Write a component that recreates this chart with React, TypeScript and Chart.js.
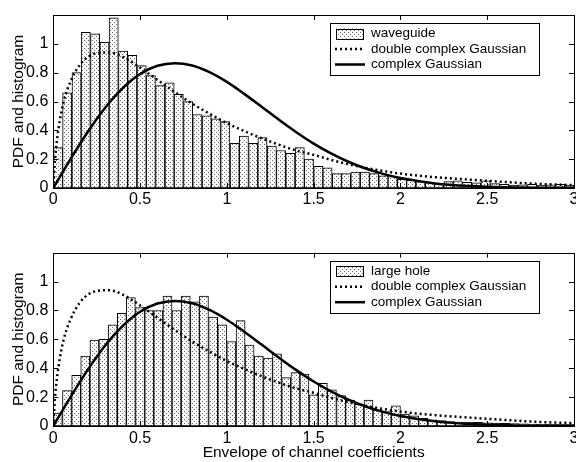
import React, { useEffect, useRef } from "react";
import { Chart, registerables } from "chart.js";

Chart.register(...registerables);

// ---------- data ----------
const TOP_BIN_CENTERS = [
  0.027, 0.08, 0.134, 0.187, 0.241, 0.295, 0.348, 0.402, 0.455, 0.509,
  0.562, 0.616, 0.67, 0.723, 0.777, 0.83, 0.884, 0.937, 0.991, 1.045,
  1.098, 1.152, 1.205, 1.259, 1.312, 1.366, 1.42, 1.473, 1.527, 1.58,
  1.634, 1.687, 1.741, 1.795, 1.848, 1.902, 1.955, 2.009, 2.062, 2.116,
  2.17, 2.223, 2.277, 2.33, 2.384, 2.437, 2.491, 2.545, 2.598, 2.652,
  2.705, 2.759, 2.812, 2.866, 2.92, 2.973,
];
const TOP_HIST = [
  0.28, 0.66, 0.8, 1.08, 1.07, 1.01, 1.18, 0.95, 0.92, 0.85,
  0.78, 0.71, 0.73, 0.65, 0.6, 0.51, 0.5, 0.48, 0.46, 0.31,
  0.36, 0.31, 0.35, 0.29, 0.26, 0.24, 0.28, 0.2, 0.15, 0.14,
  0.1, 0.1, 0.11, 0.11, 0.1, 0.085, 0.08, 0.06, 0.055, 0.045,
  0.037, 0.03, 0.045, 0.05, 0.04, 0.035, 0.05, 0.03, 0.025, 0.02,
  0.022, 0.025, 0.02, 0.022, 0.025, 0.02,
];

const BOTTOM_BIN_CENTERS = [
  0.026, 0.079, 0.132, 0.184, 0.237, 0.289, 0.342, 0.395, 0.447, 0.5,
  0.553, 0.605, 0.658, 0.71, 0.763, 0.816, 0.868, 0.921, 0.974, 1.026,
  1.079, 1.131, 1.184, 1.237, 1.289, 1.342, 1.395, 1.447, 1.5, 1.553,
  1.605, 1.658, 1.71, 1.763, 1.816, 1.868, 1.921, 1.974, 2.026, 2.079,
  2.131, 2.184, 2.237, 2.289, 2.342, 2.395, 2.447, 2.5, 2.553, 2.605,
  2.658, 2.71, 2.763, 2.816, 2.868, 2.921, 2.974,
];
const BOTTOM_HIST = [
  0.09, 0.245, 0.35, 0.485, 0.595, 0.6, 0.7, 0.78, 0.89, 0.82,
  0.8, 0.8, 0.9, 0.8, 0.9, 0.86, 0.9, 0.755, 0.7, 0.585,
  0.73, 0.56, 0.485, 0.47, 0.5, 0.335, 0.37, 0.36, 0.215, 0.295,
  0.25, 0.21, 0.18, 0.15, 0.18, 0.11, 0.1, 0.14, 0.083, 0.07,
  0.053, 0.042, 0.037, 0.03, 0.028, 0.027, 0.025, 0.022, 0.02, 0.018,
  0.016, 0.015, 0.013, 0.012, 0.012, 0.01, 0.01,
];

const DCG_X = [
  0, 0.01, 0.03, 0.06, 0.1, 0.15, 0.2, 0.25, 0.3, 0.35, 0.4, 0.45, 0.5,
  0.6, 0.7, 0.8, 0.9, 1.0, 1.1, 1.2, 1.3, 1.4, 1.5, 1.6, 1.7, 1.8, 1.9,
  2.0, 2.2, 2.4, 2.6, 2.8, 3.0,
];
const DCG_Y = [
  0, 0.2, 0.41, 0.6, 0.74, 0.85, 0.91, 0.935, 0.94, 0.935, 0.91, 0.875, 0.835,
  0.75, 0.665, 0.585, 0.515, 0.45, 0.395, 0.345, 0.3, 0.26, 0.23, 0.195, 0.165,
  0.14, 0.118, 0.1, 0.075, 0.058, 0.042, 0.028, 0.02,
];

const CG_X = [
  0, 0.1, 0.2, 0.3, 0.4, 0.5, 0.6, 0.7, 0.8, 0.9, 1.0, 1.1, 1.2, 1.3, 1.4,
  1.5, 1.6, 1.7, 1.8, 1.9, 2.0, 2.2, 2.4, 2.6, 2.8, 3.0,
];
const CG_Y = [
  0, 0.202, 0.392, 0.559, 0.693, 0.791, 0.848, 0.866, 0.85, 0.804, 0.736,
  0.653, 0.564, 0.473, 0.387, 0.308, 0.24, 0.182, 0.135, 0.098, 0.069, 0.032,
  0.014, 0.005, 0.002, 0.001,
];

const TOP_LABELS = ["waveguide", "double complex Gaussian", "complex Gaussian"];
const BOTTOM_LABELS = ["large hole", "double complex Gaussian", "complex Gaussian"];
const Y_TITLE = "PDF and histogram";
const X_TITLE = "Envelope of channel coefficients";

const FONT = '"Liberation Sans", Arial, Helvetica, sans-serif';

// ---------- helpers ----------
function makePattern(): CanvasPattern | string {
  const c = document.createElement("canvas");
  c.width = 4;
  c.height = 4;
  const g = c.getContext("2d");
  if (!g) return "#e8e8e8";
  g.fillStyle = "#fafafa";
  g.fillRect(0, 0, 4, 4);
  g.fillStyle = "#666666";
  g.fillRect(0, 0, 1, 1);
  g.fillRect(2, 2, 1, 1);
  return g.createPattern(c, "repeat") || "#e8e8e8";
}

const frameAndTicks = {
  id: "frameAndTicks",
  afterDatasetsDraw(chart: any) {
    const { ctx, chartArea } = chart;
    const { left, right, top, bottom } = chartArea;
    const xs = chart.scales.x;
    const ys = chart.scales.y;
    const len = 5;
    ctx.save();
    ctx.strokeStyle = "#000";
    ctx.lineWidth = 1;
    ctx.beginPath();
    xs.ticks.forEach((t: any) => {
      const px = Math.round(xs.getPixelForValue(t.value)) + 0.5;
      if (px <= left + 1 || px >= right - 1) return;
      ctx.moveTo(px, bottom);
      ctx.lineTo(px, bottom - len);
      ctx.moveTo(px, top);
      ctx.lineTo(px, top + len);
    });
    ys.ticks.forEach((t: any) => {
      const py = Math.round(ys.getPixelForValue(t.value)) + 0.5;
      if (py <= top + 1 || py >= bottom - 1) return;
      ctx.moveTo(left, py);
      ctx.lineTo(left + len, py);
      ctx.moveTo(right, py);
      ctx.lineTo(right - len, py);
    });
    ctx.stroke();
    ctx.strokeRect(Math.round(left) + 0.5, Math.round(top) + 0.5, Math.round(right - left), Math.round(bottom - top));
    ctx.restore();
  },
};

const boxLegend = {
  id: "boxLegend",
  afterDraw(chart: any) {
    const { ctx, chartArea } = chart;
    const ds = chart.data.datasets;
    const boxL = chartArea.right - 244;
    const boxR = chartArea.right - 35;
    const boxT = chartArea.top + 8;
    const boxH = 52;
    const rows = [18.5, 34, 49.5];
    ctx.save();
    ctx.fillStyle = "#fff";
    ctx.fillRect(boxL, boxT, boxR - boxL, boxH);
    ctx.strokeStyle = "#000";
    ctx.lineWidth = 1;
    ctx.strokeRect(Math.round(boxL) + 0.5, Math.round(boxT) + 0.5, Math.round(boxR - boxL), boxH);
    const symL = boxL + 5;
    const symR = boxL + 35;
    ds.forEach((d: any, i: number) => {
      const y = chartArea.top + rows[i];
      if (d.type === "bar") {
        ctx.fillStyle = d.backgroundColor;
        ctx.fillRect(symL + 1, y - 5, symR - symL - 3, 10);
        ctx.strokeStyle = "#000";
        ctx.lineWidth = 1;
        ctx.strokeRect(Math.round(symL + 1) + 0.5, Math.round(y - 5) + 0.5, Math.round(symR - symL - 3), 10);
      } else {
        ctx.strokeStyle = "#000";
        ctx.lineWidth = d.borderWidth;
        ctx.setLineDash(d.borderDash || []);
        ctx.beginPath();
        ctx.moveTo(symL, y);
        ctx.lineTo(symR, y);
        ctx.stroke();
        ctx.setLineDash([]);
      }
      ctx.fillStyle = "#000";
      ctx.font = `13.5px ${FONT}`;
      ctx.textBaseline = "middle";
      ctx.textAlign = "left";
      ctx.fillText(d.label, boxL + 41, y);
    });
    ctx.restore();
  },
};

function buildConfig(
  centers: number[],
  hist: number[],
  labels: string[],
  padTop: number,
  xHeight: number,
  showXTitle: boolean,
  tickPad: number
): any {
  const pattern = makePattern();
  return {
    type: "bar",
    data: {
      datasets: [
        {
          type: "bar",
          label: labels[0],
          data: centers.map((x, i) => ({ x, y: hist[i] })),
          backgroundColor: pattern,
          borderColor: "#000",
          borderWidth: 1,
          borderSkipped: false,
          barPercentage: 1,
          categoryPercentage: 1,
          order: 3,
        },
        {
          type: "line",
          label: labels[1],
          data: DCG_X.map((x, i) => ({ x, y: DCG_Y[i] })),
          borderColor: "#000",
          borderWidth: 2.5,
          borderDash: [2, 3],
          pointRadius: 0,
          cubicInterpolationMode: "monotone",
          fill: false,
          order: 2,
        },
        {
          type: "line",
          label: labels[2],
          data: CG_X.map((x, i) => ({ x, y: CG_Y[i] })),
          borderColor: "#000",
          borderWidth: 2.5,
          pointRadius: 0,
          cubicInterpolationMode: "monotone",
          fill: false,
          order: 1,
        },
      ],
    },
    options: {
      responsive: false,
      animation: false,
      devicePixelRatio: 1,
      layout: { padding: { top: padTop, left: 0, right: 2, bottom: 0 } },
      plugins: {
        legend: { display: false },
        tooltip: { enabled: false },
        title: { display: false },
      },
      scales: {
        x: {
          type: "linear",
          min: 0,
          max: 3,
          offset: false,
          grid: { display: false, drawTicks: false },
          border: { display: false },
          ticks: {
            stepSize: 0.5,
            padding: tickPad,
            color: "#000",
            font: { size: 16, family: FONT },
            maxRotation: 0,
            autoSkip: false,
            callback: (v: number) => String(Math.round(v * 10) / 10),
          },
          title: {
            display: showXTitle,
            text: X_TITLE,
            color: "#000",
            font: { size: 15.5, family: FONT },
            padding: { top: 0, bottom: 0 },
          },
          afterFit: (s: any) => {
            s.height = xHeight;
            s.paddingLeft = 0;
            s.paddingRight = 0;
          },
        },
        y: {
          type: "linear",
          min: 0,
          max: 1.2,
          grid: { display: false, drawTicks: false },
          border: { display: false },
          ticks: {
            stepSize: 0.2,
            padding: 5,
            color: "#000",
            font: { size: 16, family: FONT },
            callback: (v: number) => (v > 1.1 ? "" : String(Math.round(v * 10) / 10)),
          },
          title: {
            display: true,
            text: Y_TITLE,
            color: "#000",
            font: { size: 15.5, family: FONT },
            padding: { top: 9, bottom: 0 },
          },
          afterFit: (s: any) => {
            s.width = 53.3;
            s.paddingTop = 0;
            s.paddingBottom = 0;
          },
        },
      },
    },
    plugins: [frameAndTicks, boxLegend],
  };
}

export default function App() {
  const topRef = useRef<HTMLCanvasElement | null>(null);
  const botRef = useRef<HTMLCanvasElement | null>(null);

  useEffect(() => {
    document.body.style.margin = "0";
    document.body.style.background = "#fff";
    const charts: Chart[] = [];
    if (topRef.current) {
      charts.push(
        new Chart(topRef.current, buildConfig(TOP_BIN_CENTERS, TOP_HIST, TOP_LABELS, 15, 43, false, 2))
      );
    }
    if (botRef.current) {
      charts.push(
        new Chart(botRef.current, buildConfig(BOTTOM_BIN_CENTERS, BOTTOM_HIST, BOTTOM_LABELS, 21.7, 36, true, 3))
      );
    }
    return () => charts.forEach((c) => c.destroy());
  }, []);

  return (
    <div style={{ width: 576, height: 462, background: "#fff" }}>
      <canvas ref={topRef} width={576} height={231} style={{ display: "block" }} />
      <canvas ref={botRef} width={576} height={231} style={{ display: "block" }} />
    </div>
  );
}
